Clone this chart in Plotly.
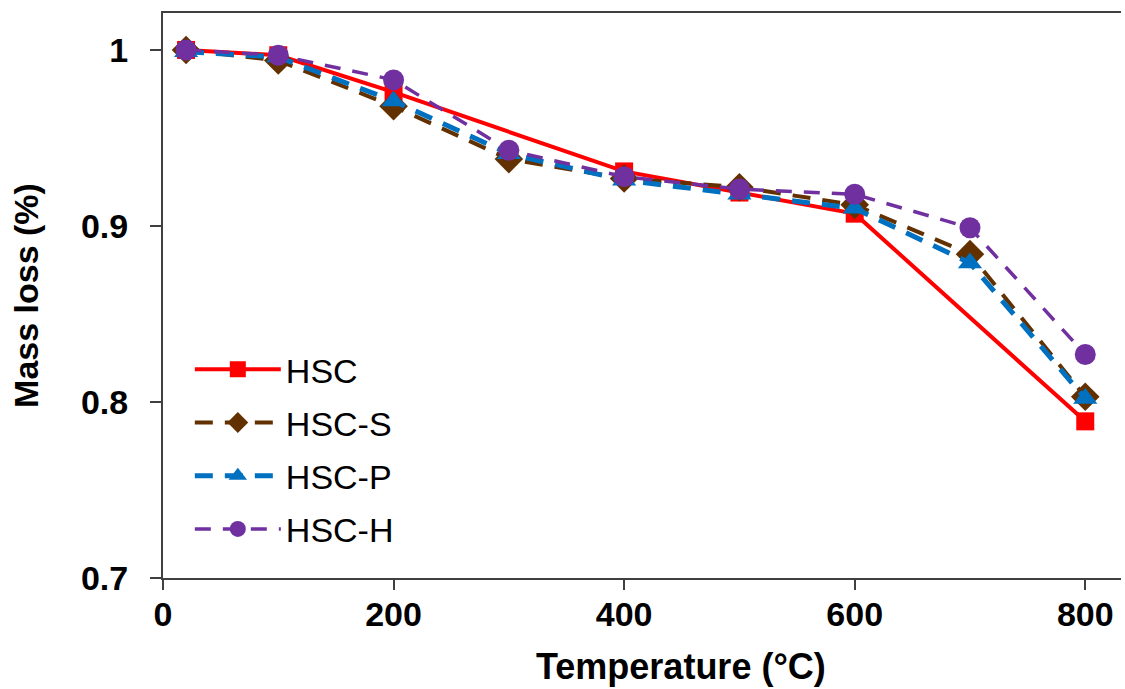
import plotly.graph_objects as go

temp_hsc = [20, 100, 200, 400, 500, 600, 800]
hsc = [1.000, 0.997, 0.976, 0.931, 0.919, 0.907, 0.789]

temps = [20, 100, 200, 300, 400, 500, 600, 700, 800]
hsc_s = [1.000, 0.994, 0.968, 0.938, 0.927, 0.922, 0.912, 0.884, 0.803]
hsc_p = [0.999, 0.996, 0.971, 0.941, 0.926, 0.918, 0.910, 0.879, 0.802]
hsc_h = [1.000, 0.997, 0.983, 0.943, 0.928, 0.921, 0.918, 0.899, 0.827]

x_ticks = [0, 200, 400, 600, 800]
y_ticks = [0.7, 0.8, 0.9, 1.0]
y_tick_labels = ["0.7", "0.8", "0.9", "1"]

FONT = "Liberation Sans, Arial, sans-serif"

fig = go.Figure()
fig.add_trace(go.Scatter(x=temp_hsc, y=hsc, name="HSC", mode="lines+markers",
                         line=dict(color="#FF0000", width=4),
                         marker=dict(symbol="square", size=18, color="#FF0000"),
                         legendgroup="a"))
fig.add_trace(go.Scatter(x=temps, y=hsc_s, name="HSC-S", mode="lines+markers",
                         line=dict(color="#633100", width=4, dash="18px,12px"),
                         marker=dict(symbol="diamond", size=22, color="#633100"),
                         legendgroup="b"))
fig.add_trace(go.Scatter(x=temps, y=hsc_p, name="HSC-P", mode="lines+markers",
                         line=dict(color="#0070C0", width=5, dash="18px,12px"),
                         marker=dict(symbol="triangle-up", size=21, color="#0070C0"),
                         legendgroup="c"))
fig.add_trace(go.Scatter(x=temps, y=hsc_h, name="HSC-H", mode="lines+markers",
                         line=dict(color="#7030A0", width=3.5, dash="16px,12px"),
                         marker=dict(symbol="circle", size=21, color="#7030A0"),
                         legendgroup="d"))

fig.update_layout(
    width=1125, height=689,
    margin=dict(l=163, r=4, t=13, b=111),
    paper_bgcolor="white", plot_bgcolor="white",
    font=dict(family=FONT, color="#000000"),
    showlegend=True,
    legend=dict(x=0.028, y=0.42, xanchor="left", yanchor="top",
                bgcolor="rgba(0,0,0,0)",
                font=dict(family=FONT, size=34, color="#000000"),
                traceorder="grouped", tracegroupgap=6, itemwidth=86),
    xaxis=dict(range=[0, 831], tickvals=x_ticks, ticks="outside", ticklen=10,
               tickwidth=2, tickcolor="#404040", showline=True, linewidth=2,
               linecolor="#404040", mirror=True, showgrid=False, zeroline=False,
               ticklabelstandoff=-5,
               tickfont=dict(family=FONT, size=34, color="#000000", weight="bold")),
    yaxis=dict(range=[0.7, 1.021], tickvals=y_ticks, ticktext=y_tick_labels,
               ticks="outside", ticklen=11, tickwidth=2, tickcolor="#404040",
               showline=True, linewidth=2, linecolor="#404040", mirror=False,
               showgrid=False, zeroline=False, ticklabelstandoff=15,
               tickfont=dict(family=FONT, size=34, color="#000000", weight="bold"),
               title=dict(text="<b>Mass loss (%)</b>",
                          font=dict(family=FONT, size=34, color="#000000"),
                          standoff=32)),
    annotations=[dict(text="<b>Temperature (°C)</b>", xref="paper", yref="paper",
                      x=0.541, y=-0.1575, xanchor="center", yanchor="middle",
                      showarrow=False,
                      font=dict(family=FONT, size=36, color="#000000"))],
)

fig.write_html("out.html", config={"displayModeBar": False},
               post_script="document.body.style.margin='0';")
